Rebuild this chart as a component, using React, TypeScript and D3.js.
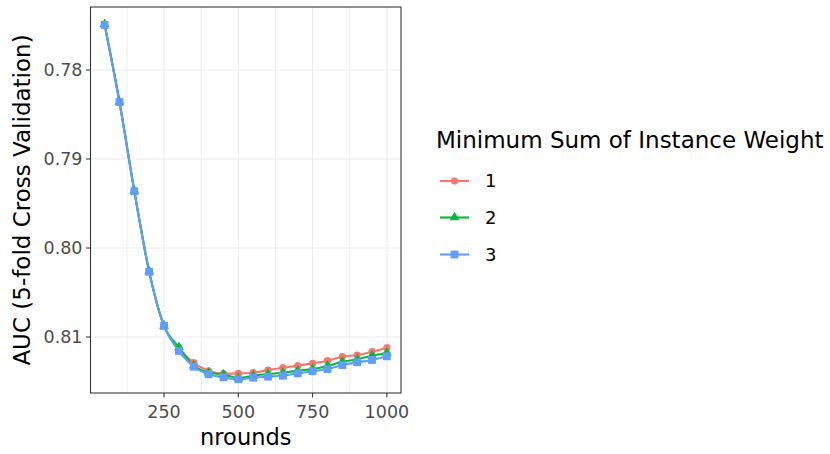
import * as d3 from "d3";

// nrounds on the x axis
const nrounds = [50, 100, 150, 200, 250, 300, 350, 400, 450, 500, 550, 600, 650, 700, 750, 800, 850, 900, 950, 1000];

// AUC per minimum sum of instance weight
const auc1 = [0.77494, 0.7836, 0.7936, 0.80266, 0.80876, 0.81125, 0.81289, 0.81379, 0.81412, 0.81408, 0.81401, 0.81371, 0.81345, 0.81322, 0.81296, 0.81266, 0.81221, 0.81202, 0.81165, 0.8112];
const auc2 = [0.77484, 0.78358, 0.79358, 0.80264, 0.80874, 0.81115, 0.81322, 0.81401, 0.81421, 0.81461, 0.81435, 0.81416, 0.81401, 0.81379, 0.8136, 0.81326, 0.81278, 0.81251, 0.8121, 0.81176];
const auc3 = [0.77494, 0.7836, 0.79362, 0.80268, 0.80876, 0.81157, 0.81334, 0.81419, 0.81453, 0.81475, 0.81457, 0.81446, 0.81435, 0.81408, 0.81385, 0.8136, 0.81315, 0.81284, 0.81258, 0.81217];

const groups = ["1", "2", "3"];
const xMajor = [250, 500, 750, 1000];
const xMinor = [125, 375, 625, 875];
const yTicks = [0.78, 0.79, 0.8, 0.81];

const colors = ["#F8766D", "#00BA38", "#619CFF"];
const seriesValues = [auc1, auc2, auc3];

const W = 830;
const H = 454;
const FONT = "DejaVu Sans";

function Marker({ i, cx, cy }: { i: number; cx: number; cy: number }) {
  if (i === 0) return <circle cx={cx} cy={cy} r={3.6} fill={colors[0]} />;
  if (i === 1)
    return (
      <path
        d={d3.symbol(d3.symbolTriangle, 42)()!}
        transform={`translate(${cx},${cy})`}
        fill={colors[1]}
      />
    );
  return <rect x={cx - 3.9} y={cy - 3.9} width={7.8} height={7.8} fill={colors[2]} />;
}

export default function App() {
  const panel = { left: 90.5, right: 401, top: 7, bottom: 393 };

  const x = d3.scaleLinear().domain([2.5, 1047.5]).range([panel.left, panel.right]);
  const y = d3.scaleLinear().domain([0.772921, 0.816292]).range([panel.top, panel.bottom]);

  const line = d3
    .line<[number, number]>()
    .x((d) => x(d[0]))
    .y((d) => y(d[1]))
    .curve(d3.curveMonotoneX);

  const series = seriesValues.map((vals) => nrounds.map((n, j) => [n, vals[j]] as [number, number]));

  const legendX = 440;
  const legendY = [181, 217.5, 254.5];

  return (
    <svg
      width={W}
      height={H}
      style={{ position: "absolute", left: 0, top: 0, background: "#fff" }}
      fontFamily={FONT}
    >
      <rect width={W} height={H} fill="#fff" />

      {/* grid */}
      {xMinor.map((v) => (
        <line key={"xm" + v} x1={x(v)} x2={x(v)} y1={panel.top} y2={panel.bottom} stroke="#EBEBEB" strokeWidth={0.9} />
      ))}
      {xMajor.map((v) => (
        <line key={"xM" + v} x1={x(v)} x2={x(v)} y1={panel.top} y2={panel.bottom} stroke="#EBEBEB" strokeWidth={1.1} />
      ))}
      {yTicks.map((v) => (
        <line key={"yM" + v} x1={panel.left} x2={panel.right} y1={y(v)} y2={y(v)} stroke="#EBEBEB" strokeWidth={1.1} />
      ))}

      {/* lines */}
      {series.map((s, i) => (
        <path key={"l" + i} d={line(s)!} fill="none" stroke={colors[i]} strokeWidth={2.1} />
      ))}
      {/* points */}
      {series.map((s, i) =>
        s.map((d, j) => <Marker key={`p${i}-${j}`} i={i} cx={x(d[0])} cy={y(d[1])} />)
      )}

      {/* panel border */}
      <rect
        x={panel.left}
        y={panel.top}
        width={panel.right - panel.left}
        height={panel.bottom - panel.top}
        fill="none"
        stroke="#333333"
        strokeWidth={1.07}
      />

      {/* y axis */}
      {yTicks.map((v) => (
        <g key={"yt" + v}>
          <line x1={panel.left - 4.5} x2={panel.left} y1={y(v)} y2={y(v)} stroke="#333333" strokeWidth={1.07} />
          <text x={panel.left - 8} y={y(v)} dy="0.36em" textAnchor="end" fontSize={17.5} fill="#4D4D4D">
            {d3.format(".2f")(v)}
          </text>
        </g>
      ))}
      {/* x axis */}
      {xMajor.map((v) => (
        <g key={"xt" + v}>
          <line x1={x(v)} x2={x(v)} y1={panel.bottom} y2={panel.bottom + 4.5} stroke="#333333" strokeWidth={1.07} />
          <text x={x(v)} y={418} textAnchor="middle" fontSize={17.5} fill="#4D4D4D">
            {v}
          </text>
        </g>
      ))}

      <text x={(panel.left + panel.right) / 2} y={445} textAnchor="middle" fontSize={22.5} fill="#000">
        nrounds
      </text>
      <text
        transform={`translate(30,${(panel.top + panel.bottom) / 2}) rotate(-90)`}
        textAnchor="middle"
        fontSize={23}
        fill="#000"
      >
        AUC (5-fold Cross Validation)
      </text>

      {/* legend */}
      <text x={436} y={148} fontSize={23} fill="#000">
        Minimum Sum of Instance Weight
      </text>
      {groups.map((g, i) => (
        <g key={"lg" + g}>
          <line x1={legendX} x2={legendX + 29} y1={legendY[i]} y2={legendY[i]} stroke={colors[i]} strokeWidth={2.1} />
          <Marker i={i} cx={legendX + 14.5} cy={legendY[i]} />
          <text x={485} y={legendY[i]} dy="0.36em" fontSize={18} fill="#000">
            {g}
          </text>
        </g>
      ))}
    </svg>
  );
}
